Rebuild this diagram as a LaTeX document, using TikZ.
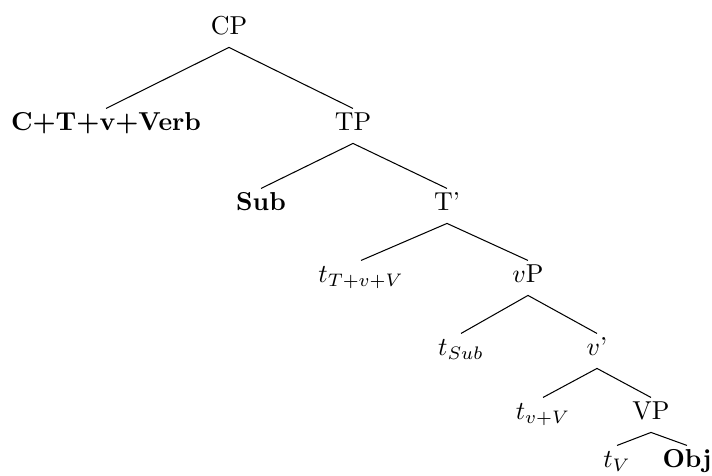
\documentclass[tikz,border=0pt]{standalone}
\tikzset{
  cat/.style={anchor=base, inner xsep=0pt, inner ysep=1.7pt,
      text height=6.8pt, text depth=2.9pt},
  branch/.style={line width=0.4pt}
}
\def\PixelScale {0.3861pt}

\begin{document}
\begin{tikzpicture}[x=\PixelScale, y=-\PixelScale]
        \useasboundingbox (0,0) rectangle (712,476);
        % categories, one row per level
        \node[cat] (CP) at (229,35) {CP};
        \node[cat] (CTvV) at (106,131) {\textbf{C+T+v+Verb}};
        \node[cat] (TP) at (353,131) {TP};
        \node[cat] (Sub) at (261,211) {\textbf{Sub}};
        \node[cat] (Tbar) at (447,211) {T'};
        \node[cat] (tTvV) at (361,283) {$t_{T+v+V}$};
        \node[cat] (vP) at (528,283) {$v$P};
        \node[cat] (tSub) at (461,356) {$t_{Sub}$};
        \node[cat] (vbar) at (597,356) {$v$'};
        \node[cat] (tvV) at (543,420) {$t_{v+V}$};
        \node[cat] (VP) at (651,420) {VP};
        \node[cat] (tV) at (617,468) {$t_V$};
        \node[cat] (Obj) at (687,468) {\textbf{Obj}};
        % branches
        \foreach \p/\c in {CP/CTvV, CP/TP, TP/Sub, TP/Tbar, Tbar/tTvV, Tbar/vP,
            vP/tSub, vP/vbar, vbar/tvV, vbar/VP, VP/tV, VP/Obj} {
            \draw[branch] (\p.south) -- (\c.north);
          }
      \end{tikzpicture}
\end{document}
